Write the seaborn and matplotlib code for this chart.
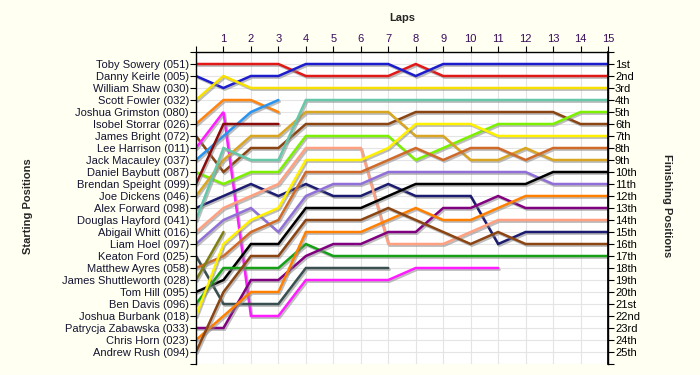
import matplotlib
matplotlib.use("Agg")
import matplotlib.pyplot as plt
import matplotlib.patheffects as pe
import seaborn as sns
import pandas as pd

# ---- data ----
start_labels = [
    "Toby Sowery (051)", "Danny Keirle (005)", "William Shaw (030)", "Scott Fowler (032)",
    "Joshua Grimston (080)", "Isobel Storrar (026)", "James Bright (072)", "Lee Harrison (011)",
    "Jack Macauley (037)", "Daniel Baybutt (087)", "Brendan Speight (099)", "Joe Dickens (046)",
    "Alex Forward (098)", "Douglas Hayford (041)", "Abigail Whitt (016)", "Liam Hoel (097)",
    "Keaton Ford (025)", "Matthew Ayres (058)", "James Shuttleworth (028)", "Tom Hill (095)",
    "Ben Davis (096)", "Joshua Burbank (018)", "Patrycja Zabawska (033)", "Chris Horn (023)",
    "Andrew Rush (094)",
]
finish_labels = ["1st", "2nd", "3rd"] + [f"{i}th" for i in range(4, 21)] + ["21st", "22nd", "23rd", "24th", "25th"]
lap_ticks = list(range(0, 16))

# positions per lap (lap 0 = grid), one list per driver
toby_sowery = [1, 1, 1, 1, 2, 2, 2, 2, 1, 2, 2, 2, 2, 2, 2, 2]
danny_keirle = [2, 3, 2, 2, 1, 1, 1, 1, 2, 1, 1, 1, 1, 1, 1, 1]
scott_fowler = [4, 2, 3, 3, 3, 3, 3, 3, 3, 3, 3, 3, 3, 3, 3, 3]
isobel_storrar = [6, 4, 4, 5]
james_bright = [7, 10, 8, 8, 6, 6, 6, 6, 5, 5, 5, 5, 5, 5, 6, 6]
lee_harrison = [8, 5, 22, 22, 19, 19, 19, 19, 18, 18, 18, 18]
jack_macauley = [9, 7, 5, 4]
daniel_baybutt = [10, 11, 10, 10, 7, 7, 7, 7, 9, 8, 7, 6, 6, 6, 5, 5]
brendan_speight = [11, 6, 6, 6]
joe_dickens = [12, 9, 7, 7, 5, 5, 5, 5, 7, 7, 9, 9, 8, 9, 9, 9]
alex_forward = [13, 12, 11, 12, 11, 12, 12, 11, 12, 12, 12, 16, 15, 15, 15, 15]
douglas_hayford = [14, 8, 9, 9, 4, 4, 4, 4, 4, 4, 4, 4, 4, 4, 4, 4]
abigail_whitt = [15, 13, 12, 11, 8, 8, 8, 16, 16, 16, 15, 14, 14, 14, 14, 14]
liam_hoel = [16, 14, 13, 15, 12, 11, 11, 10, 10, 10, 10, 10, 10, 11, 11, 11]
keaton_ford = [17, 21, 21, 21, 18, 18, 18, 18]
matthew_ayres = [18, 17, 15, 14, 10, 10, 10, 9, 8, 9, 8, 8, 9, 8, 8, 8]
james_shuttleworth = [19, 15]
tom_hill = [20, 19, 16, 16, 13, 13, 13, 12, 11, 11, 11, 11, 11, 10, 10, 10]
ben_davis = [21, 18, 18, 18, 16, 17, 17, 17, 17, 17, 17, 17, 17, 17, 17, 17]
joshua_burbank = [22, 16, 14, 13, 9, 9, 9, 8, 6, 6, 6, 7, 7, 7, 7, 7]
patrycja_zabawska = [23, 23, 19, 19, 17, 16, 16, 15, 15, 13, 13, 12, 13, 13, 13, 13]
chris_horn = [24, 22, 20, 20, 15, 15, 15, 14, 13, 14, 14, 13, 12, 12, 12, 12]
andrew_rush = [25, 20, 17, 17, 14, 14, 14, 13, 14, 15, 16, 15, 16, 16, 16, 16]

drivers = [
    ("Toby Sowery", toby_sowery, "#e01818"),
    ("Danny Keirle", danny_keirle, "#1c1ccc"),
    ("Scott Fowler", scott_fowler, "#f7e000"),
    ("Isobel Storrar", isobel_storrar, "#ff8410"),
    ("James Bright", james_bright, "#8b4513"),
    ("Lee Harrison", lee_harrison, "#ff1cff"),
    ("Jack Macauley", jack_macauley, "#2894f0"),
    ("Daniel Baybutt", daniel_baybutt, "#7cf000"),
    ("Brendan Speight", brendan_speight, "#8b0a0a"),
    ("Joe Dickens", joe_dickens, "#daa520"),
    ("Alex Forward", alex_forward, "#1c1c70"),
    ("Douglas Hayford", douglas_hayford, "#66c8a8"),
    ("Abigail Whitt", abigail_whitt, "#ffa080"),
    ("Liam Hoel", liam_hoel, "#9070d8"),
    ("Keaton Ford", keaton_ford, "#3a5050"),
    ("Matthew Ayres", matthew_ayres, "#d06a28"),
    ("James Shuttleworth", james_shuttleworth, "#808010"),
    ("Tom Hill", tom_hill, "#000000"),
    ("Ben Davis", ben_davis, "#16a016"),
    ("Joshua Burbank", joshua_burbank, "#fff000"),
    ("Patrycja Zabawska", patrycja_zabawska, "#800080"),
    ("Chris Horn", chris_horn, "#ff8000"),
    ("Andrew Rush", andrew_rush, "#8b4513"),
]

# ---- plot ----
sns.set_theme(style="white")
plt.rcParams['font.family'] = ['Liberation Sans', 'DejaVu Sans']

bg = "#fffff2"
fig = plt.figure(figsize=(7.0, 3.75), dpi=100, facecolor=bg)
ax = fig.add_axes([196 / 700, 1 - 364 / 375, (608 - 196) / 700, (364 - 52) / 375])
ax.set_facecolor("white")

shadow = [pe.SimpleLineShadow(offset=(1.0, -1.2), shadow_color="#888888", alpha=0.55), pe.Normal()]
for name, pos, col in drivers:
    df = pd.DataFrame({"lap": lap_ticks[:len(pos)], "pos": pos})
    sns.lineplot(data=df, x="lap", y="pos", color=col, lw=1.8, ax=ax, sort=False,
                 estimator=None, path_effects=shadow, solid_joinstyle="miter")

ax.set_xlim(0, 15)
ax.set_ylim(26, 0)
ax.xaxis.tick_top()
ax.set_xticks(lap_ticks)
ax.set_xticklabels([""] + [str(i) for i in lap_ticks[1:]], color="#3a0a5a", fontsize=8)
ax.set_yticks(range(0, 27))
ax.set_yticklabels([""] + start_labels + [""], color="#141432", fontsize=8)
ax.tick_params(axis="x", which="both", top=True, bottom=False, direction="out", length=4, width=0.8, colors="black", pad=2)
for t in ax.get_xticklabels():
    t.set_color("#3a0a5a")
ax.tick_params(axis="y", direction="out", length=4, width=0.8, colors="black", pad=1)
for t in ax.get_yticklabels():
    t.set_color("#141432")
ax.grid(True, color="#e4e4e4", lw=0.8)
ax.set_axisbelow(True)
ax.set_xlabel("")
ax.set_ylabel("")
for s in ["left", "right", "top"]:
    ax.spines[s].set_visible(True)
    ax.spines[s].set_color("black")
    ax.spines[s].set_linewidth(1.0)
ax.spines["bottom"].set_visible(False)

ax2 = ax.twinx()
ax2.set_ylim(26, 0)
ax2.set_yticks(range(0, 27))
ax2.set_yticklabels([""] + finish_labels + [""], fontsize=8, color="black")
ax2.tick_params(axis="y", direction="out", length=4, width=0.8, colors="black", pad=1)
for t in ax2.get_yticklabels():
    t.set_color("black")
for s in ["left", "bottom", "top"]:
    ax2.spines[s].set_visible(False)
ax2.spines["right"].set_color("black")
ax2.grid(False)

fig.text(402 / 700, 1 - 18 / 375, "Laps", ha="center", va="center", fontsize=8, fontweight="bold")
fig.text(28 / 700, 1 - 206 / 375, "Starting Positions", ha="center", va="center", rotation=90,
         fontsize=8, fontweight="bold")
fig.text(667 / 700, 1 - 206 / 375, "Finishing Positions", ha="center", va="center", rotation=270,
         fontsize=8, fontweight="bold")

fig.savefig("out.png", dpi=100, facecolor=bg)
